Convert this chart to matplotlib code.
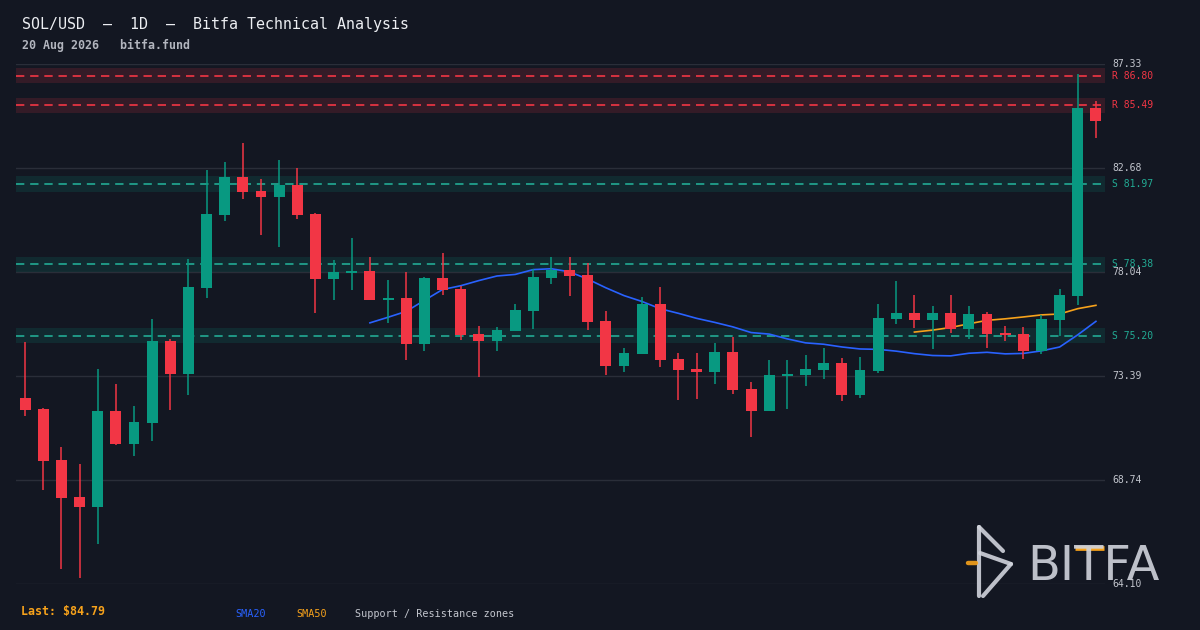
import matplotlib
matplotlib.use("Agg")
import matplotlib.pyplot as plt
from matplotlib.lines import Line2D
import numpy as np
import pandas as pd

# daily candles (open, high, low, close)
opens = [72.41, 71.92, 69.64, 67.99, 67.54, 71.83, 70.35, 71.29, 74.96, 73.48,
         77.32, 80.58, 82.28, 81.66, 81.39, 81.93, 80.63, 77.73, 77.99, 78.08,
         76.79, 76.88, 74.82, 77.77, 77.28, 75.27, 74.96, 75.40, 76.30, 77.77,
         78.13, 77.90, 75.85, 73.84, 74.37, 76.61, 74.15, 73.70, 73.57, 74.46,
         72.81, 71.83, 73.39, 73.44, 73.66, 73.97, 72.54, 73.62, 75.94, 76.21,
         75.89, 76.21, 75.49, 76.16, 75.31, 75.27, 74.51, 75.89, 76.97, 85.36]
highs = [74.91, 71.95, 70.22, 69.46, 73.70, 73.03, 72.05, 75.94, 75.05, 78.62,
         82.59, 82.95, 83.80, 82.19, 83.04, 82.68, 80.67, 78.57, 79.56, 78.71,
         77.68, 78.04, 77.81, 78.89, 77.41, 75.63, 75.58, 76.61, 78.17, 78.71,
         78.71, 78.44, 76.30, 74.64, 76.92, 77.37, 74.42, 74.42, 74.87, 75.13,
         73.12, 74.11, 74.11, 74.33, 74.64, 74.20, 74.24, 76.61, 77.64, 77.01,
         76.52, 77.01, 76.52, 76.25, 75.63, 75.58, 76.12, 77.28, 86.88, 85.68]
lows = [71.61, 68.30, 64.77, 64.37, 65.89, 70.33, 69.82, 70.49, 71.87, 72.54,
        76.88, 80.32, 81.30, 79.69, 79.16, 80.41, 76.21, 76.79, 77.23, 76.77,
        75.76, 74.11, 74.51, 77.01, 75.00, 73.35, 74.51, 75.40, 75.49, 77.50,
        76.97, 75.45, 73.44, 73.57, 74.37, 73.79, 72.32, 72.36, 73.03, 72.59,
        70.67, 71.83, 71.92, 72.95, 73.26, 72.28, 72.41, 73.53, 75.72, 75.54,
        74.60, 75.31, 75.05, 74.64, 74.96, 74.15, 74.37, 75.18, 76.56, 84.02]
closes = [71.87, 69.59, 67.94, 67.54, 71.83, 70.35, 71.34, 74.96, 73.48, 77.37,
          80.63, 82.28, 81.61, 81.39, 81.93, 80.58, 77.73, 78.04, 78.08, 76.79,
          76.88, 74.82, 77.77, 77.23, 75.22, 74.96, 75.45, 76.34, 77.81, 78.13,
          77.86, 75.80, 73.84, 74.42, 76.61, 74.11, 73.66, 73.57, 74.46, 72.77,
          71.83, 73.44, 73.48, 73.70, 73.97, 72.54, 73.66, 75.98, 76.21, 75.89,
          76.21, 75.49, 76.16, 75.27, 75.22, 74.51, 75.94, 77.01, 85.36, 84.79]

resistance = [86.80, 85.49]
support = [81.97, 78.38, 75.20]
price_ticks = [64.10, 68.74, 73.39, 78.04, 82.68, 87.33]

title = "SOL/USD  —  1D  —  Bitfa Technical Analysis"
subtitle = "20 Aug 2026   bitfa.fund"
last_price = closes[-1]

# colours
BG = "#131722"
UP = "#089981"
DOWN = "#f23645"
SUP = "#22ab94"
GRID = "#2a2e39"
TXT = "#c3c6ce"
SMA20_C = "#2962ff"
SMA50_C = "#f7a21b"
MONO = "DejaVu Sans Mono"

W, H = 1200, 630
fig = plt.figure(figsize=(12, 6.3), dpi=100, facecolor=BG)
ax = fig.add_axes([16 / W, 1 - 584 / H, 1089 / W, 520 / H], facecolor=BG)

n = len(closes)
x = np.arange(n)
o = np.array(opens)
c = np.array(closes)
hi = np.array(highs)
lo = np.array(lows)
up = c >= o
cols = np.where(up, UP, DOWN)

# grid
for p in price_ticks:
    ax.axhline(p, color=GRID, lw=1, zorder=0.5)

# S/R zones
half = 0.34
for lv in resistance:
    ax.axhspan(lv - half, lv + half, color=DOWN, alpha=0.15, lw=0, zorder=1)
    ax.axhline(lv, color=DOWN, lw=1.2, dashes=(5, 3.5), zorder=1.5)
for lv in support:
    ax.axhspan(lv - half, lv + half, color=UP, alpha=0.15, lw=0, zorder=1)
    ax.axhline(lv, color=SUP, lw=1.2, dashes=(5, 3.5), zorder=1.5)

# moving averages
sma20 = pd.Series(closes).rolling(20).mean()
sma50 = pd.Series(closes).rolling(50).mean()
ax.plot(x, sma20, color=SMA20_C, lw=1.2, zorder=2)
ax.plot(x, sma50, color=SMA50_C, lw=1.2, zorder=2)

# candles
ax.vlines(x, lo, hi, colors=cols, lw=1.1, zorder=3)
body = np.maximum(np.abs(c - o), 0.08)
ax.bar(x, body, bottom=np.minimum(o, c), width=0.6, color=cols, lw=0, zorder=4)

ax.set_xlim(-0.5, n - 0.5)
ax.set_ylim(price_ticks[0], price_ticks[-1])
for s in ax.spines.values():
    s.set_visible(False)
ax.set_xticks([])
ax.set_yticks([])

# right-hand labels
lab_x = (1112 - 16) / 1089
tr = ax.get_yaxis_transform()
for p in price_ticks:
    ax.text(lab_x, p, f"{p:.2f}", transform=tr, color=TXT, fontsize=7,
            family=MONO, va="center", ha="left", clip_on=False, zorder=6)
for lv in resistance:
    ax.text(lab_x, lv, f"R {lv:.2f}", transform=tr, color=DOWN, fontsize=7,
            family=MONO, va="center", ha="left", clip_on=False)
for lv in support:
    ax.text(lab_x, lv, f"S {lv:.2f}", transform=tr, color=SUP, fontsize=7,
            family=MONO, va="center", ha="left", clip_on=False)

# header
fig.text(22 / W, 1 - 24 / H, title, color="#eceef2", fontsize=10.8,
         family=MONO, va="center", ha="left")
fig.text(22 / W, 1 - 45 / H, subtitle, color="#b2b5be", fontsize=8.4,
         family=MONO, weight="bold", va="center", ha="left")

# footer
fig.text(21 / W, 1 - 612 / H, f"Last: ${last_price:.2f}", color=SMA50_C,
         fontsize=8.4, family=MONO, weight="bold", va="center", ha="left")
fig.text(235 / W, 1 - 614 / H, "SMA20", color=SMA20_C, fontsize=7.3,
         family=MONO, va="center", ha="left")
fig.text(296 / W, 1 - 614 / H, "SMA50", color=SMA50_C, fontsize=7.3,
         family=MONO, va="center", ha="left")
fig.text(355 / W, 1 - 614 / H, "Support / Resistance zones", color=TXT,
         fontsize=7.3, family=MONO, va="center", ha="left")

# watermark logo
LOGO = "#d1d4dc"
def px(xx, yy):
    return xx / W, 1 - yy / H

def seg(p0, p1, color=LOGO, lw=3.0):
    (x0, y0), (x1, y1) = px(*p0), px(*p1)
    fig.add_artist(Line2D([x0, x1], [y0, y1], color=color, lw=lw,
                          solid_capstyle="round", alpha=0.9))

seg((979, 527), (979, 596))
seg((979, 527), (1003, 551))
seg((980, 553), (1011, 564))
seg((1011, 564), (983, 596))
seg((968, 563), (976, 563), color=SMA50_C, lw=3.2)

fig.text(1027 / W, 1 - 580 / H, "BITFA", color=LOGO, fontsize=34.5, alpha=0.9,
         family="DejaVu Sans", ha="left", va="baseline")
fig.add_artist(Line2D([1075 / W, 1104 / W], [1 - 548 / H, 1 - 548 / H],
                      color=SMA50_C, lw=3.4, solid_capstyle="butt"))

fig.savefig("out.png", dpi=100, facecolor=BG)
